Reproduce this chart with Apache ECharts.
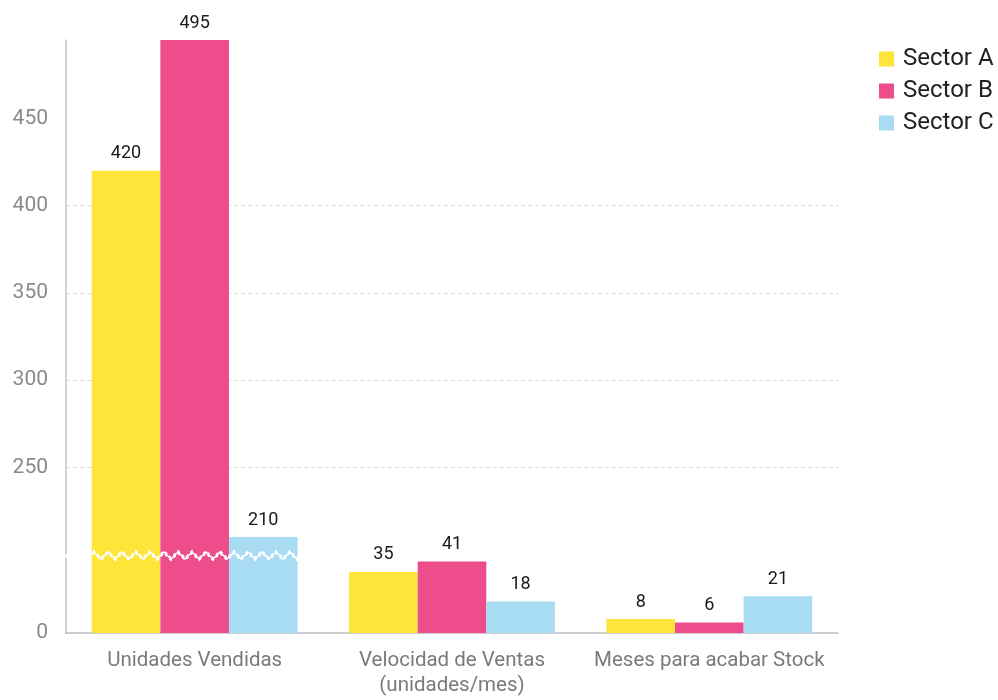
<!DOCTYPE html>
<html>
<head>
<meta charset="utf-8">
<title>Ventas por sector</title>
<script src="https://cdn.jsdelivr.net/npm/echarts@6/dist/echarts.min.js"></script>
<style>
  html, body { margin: 0; padding: 0; background: #fff; }
  #chart { width: 998px; height: 700px; }
</style>
</head>
<body>
<div id="chart"></div>
<script>
// Categories on the x axis
const categories = ['Unidades Vendidas', 'Velocidad de Ventas\n(unidades/mes)', 'Meses para acabar Stock'];

// Series values
const sectorA = [420, 35, 8];
const sectorB = [495, 41, 6];
const sectorC = [210, 18, 21];
const seriesNames = ['Sector A', 'Sector B', 'Sector C'];
const seriesValues = [sectorA, sectorB, sectorC];

// Y axis labels that are printed, and the dashed guide lines
const yTickLabels = [0, 250, 300, 350, 400, 450];
const gridLineValues = [250, 300, 350, 400];

// Broken segment of the value axis
const axisBreak = { start: 44, end: 200, gap: 1 };

const colors = ['#FEE539', '#EE4D8B', '#A8DCF3'];
const FONT = 'Roboto';

const chart = echarts.init(document.getElementById('chart'), null, { renderer: 'canvas' });

const gridBox = { left: 66, right: 160, top: 40, bottom: 67, containLabel: false };

function valueAxis(idx, visible) {
  return {
    type: 'value',
    gridIndex: idx,
    min: 0,
    max: 495,
    interval: 50,
    breaks: [{ start: axisBreak.start, end: axisBreak.end, gap: axisBreak.gap }],
    breakArea: {
      show: visible,
      expandOnClick: false,
      zigzagAmplitude: 3.5,
      zigzagMinSpan: 7,
      zigzagMaxSpan: 7,
      itemStyle: { color: '#fff', borderColor: '#fff', borderWidth: 2, opacity: 1 }
    },
    axisLine: { show: visible, lineStyle: { color: '#c4c4c4', width: 1.5 } },
    axisTick: { show: false },
    splitLine: { show: false },
    axisLabel: {
      show: visible,
      color: '#8a8a8a',
      fontSize: 21,
      margin: 18,
      fontFamily: FONT,
      formatter: function (v) {
        return yTickLabels.indexOf(v) >= 0 ? String(v) : '';
      }
    }
  };
}

function categoryAxis(idx, visible) {
  return {
    type: 'category',
    gridIndex: idx,
    data: categories,
    axisLine: { show: visible, lineStyle: { color: '#bdbdbd', width: 1.5 } },
    axisTick: { show: false },
    axisLabel: {
      show: visible,
      interval: 0,
      color: '#7a7a7a',
      fontSize: 20.5,
      margin: 15,
      lineHeight: 25,
      fontFamily: FONT
    }
  };
}

// Coloured bars (grid 0)
const barSeries = seriesValues.map((vals, i) => ({
  name: seriesNames[i],
  type: 'bar',
  xAxisIndex: 0,
  yAxisIndex: 0,
  data: vals,
  barGap: '0%',
  barCategoryGap: '20%',
  z: 2,
  itemStyle: { color: colors[i] },
  label: { show: false },
  emphasis: { disabled: true }
}));

// Value labels drawn above the axis break band (grid 1, same geometry)
const labelSeries = seriesValues.map((vals, i) => ({
  name: seriesNames[i],
  type: 'bar',
  xAxisIndex: 1,
  yAxisIndex: 1,
  data: vals,
  barGap: '0%',
  barCategoryGap: '20%',
  z: 150,
  silent: true,
  itemStyle: { color: 'rgba(0,0,0,0)' },
  label: {
    show: true,
    position: 'top',
    distance: 8,
    color: '#1a1a1a',
    fontSize: 18,
    fontFamily: FONT
  },
  emphasis: { disabled: true }
}));

// Dashed guide lines, kept underneath the bars
const guideSeries = {
  name: 'guides',
  type: 'line',
  xAxisIndex: 0,
  yAxisIndex: 0,
  data: [],
  z: 1,
  markLine: {
    z: 1,
    silent: true,
    symbol: 'none',
    label: { show: false },
    lineStyle: { color: '#dcdcdc', type: [4, 3], width: 1 },
    data: gridLineValues.map(v => ({ yAxis: v }))
  }
};

chart.setOption({
  animation: false,
  textStyle: { fontFamily: FONT },
  grid: [Object.assign({}, gridBox), Object.assign({}, gridBox)],
  legend: {
    orient: 'vertical',
    left: 874,
    top: 42,
    itemWidth: 15,
    itemHeight: 15,
    itemGap: 8,
    icon: 'rect',
    textStyle: { color: '#222', fontSize: 24, fontFamily: FONT, padding: [0, 0, 0, 4] },
    data: seriesNames
  },
  xAxis: [categoryAxis(0, true), categoryAxis(1, false)],
  yAxis: [valueAxis(0, true), valueAxis(1, false)],
  series: [guideSeries].concat(barSeries, labelSeries)
});
</script>
</body>
</html>
